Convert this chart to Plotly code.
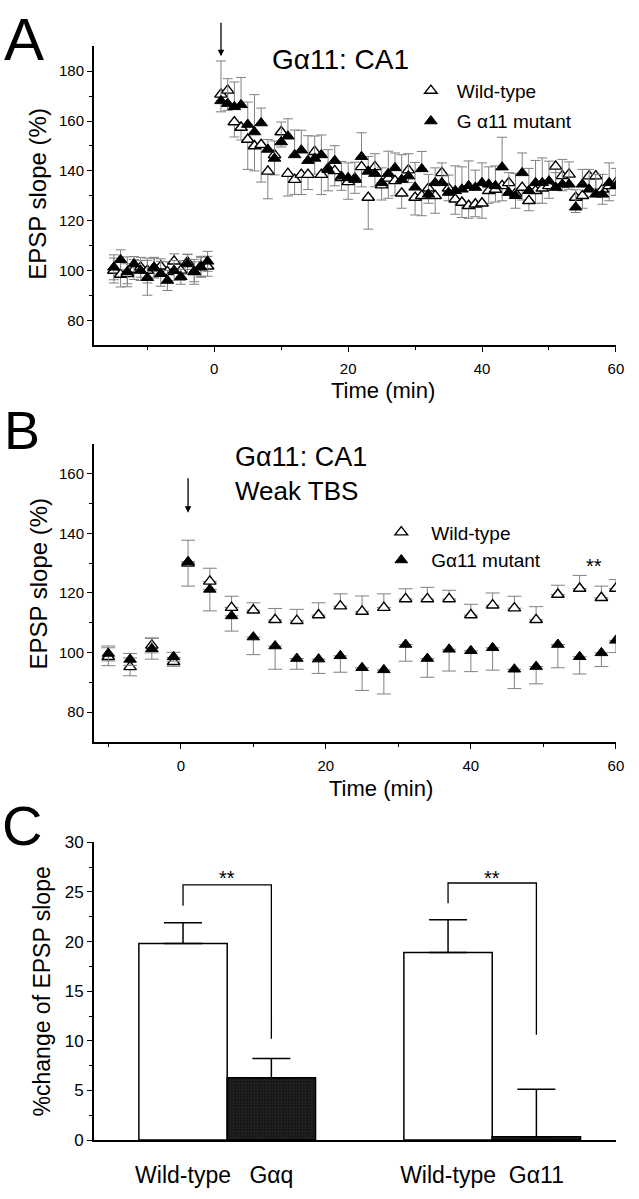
import plotly.graph_objects as go

# ---------------- Panel A data ----------------
tA = [-15, -14, -13, -12, -11, -10, -9, -8, -7, -6, -5, -4, -3, -2, -1,
      1, 2, 3, 4, 5, 6, 7, 8, 9, 10, 11, 12, 13, 14, 15, 16, 17, 18, 19, 20,
      21, 22, 23, 24, 25, 26, 27, 28, 29, 30, 31, 32, 33, 34, 35, 36, 37, 38, 39, 40,
      41, 42, 43, 44, 45, 46, 47, 48, 49, 50, 51, 52, 53, 54, 55, 56, 57, 58, 59, 60]
wtA = [100.0, 98.4, 98.7, 100.4, 101.3, 100.0, 101.0, 101.7, 99.5, 103.7, 100.0, 103.4, 99.5, 101.7, 101.7,
       170.7, 172.3, 159.6, 157.4, 152.6, 150.0, 150.5, 139.8, 146.4, 155.6,
       138.9, 136.5, 138.5, 138.5, 147.7, 138.5, 141.0, 140.0, 137.2, 135.6,
       137.0, 141.6, 129.3, 141.6, 134.3, 137.0, 136.0, 131.0, 140.3, 129.3,
       130.0, 133.0, 130.0, 139.2, 133.0, 128.6, 127.3, 126.0, 126.6, 127.0,
       132.0, 132.5, 134.0, 135.2, 131.0, 133.3, 128.0, 132.0, 133.0, 134.0,
       141.8, 138.0, 138.6, 129.3, 130.0, 137.9, 137.9, 132.6, 134.0, 135.2]
wtA_err = [5, 5, 4, 4, 4, 5, 4, 3, 4, 3, 4, 3, 4, 4, 4,
           7, 8, 6, 5, 12, 10, 15, 11, 8, 6,
           9, 6, 8, 6, 9, 8, 9, 6, 5, 7,
           6, 8, 12.7, 8, 6, 8, 6, 6, 5, 7,
           8, 6, 7, 5, 5, 6, 6, 5, 5, 6,
           5, 5, 6, 5, 6, 5, 4, 5, 6, 5,
           7, 6, 6, 6, 5, 6, 5, 6, 6, 5]
mutA = [101.3, 104.3, 99.5, 102.6, 100.0, 97.1, 101.3, 98.7, 96.0, 100.0, 97.5, 102.6, 99.5, 101.3, 103.7,
        168.1, 167.0, 165.7, 166.5, 158.6, 155.6, 159.2, 148.6, 145.0, 151.6,
        153.9, 146.4, 148.3, 144.1, 145.0, 146.4, 140.5, 144.1, 137.8, 137.2,
        136.5, 145.7, 139.8, 138.9, 135.2, 138.9, 141.2, 136.5, 137.9, 133.4,
        140.8, 130.6, 135.2, 135.2, 131.3, 132.0, 132.6, 134.0, 133.3, 135.2,
        134.6, 134.0, 141.5, 131.3, 130.0, 139.2, 132.0, 135.2, 135.2, 135.9,
        133.3, 134.6, 134.6, 125.4, 134.6, 132.6, 130.6, 130.6, 135.2, 134.0]
mutA_err = [5, 4, 6, 3, 4, 7, 4, 5, 4, 4, 3, 4, 5, 4, 4,
            16, 10, 10, 11, 9, 15, 6, 4, 7, 8,
            7, 10, 8, 10, 9, 8, 8, 6, 6, 6,
            7, 9.6, 6, 8, 6, 9, 6, 10, 9, 10,
            7, 8, 6, 8, 7, 10, 9, 10, 7, 8,
            7, 8, 12, 8, 9, 8, 9, 9, 10, 8,
            6, 10, 9, 7, 6, 8, 8, 8, 8, 7]

# ---------------- Panel B data ----------------
tB = [-10, -7, -4, -1, 1, 4, 7, 10, 13, 16, 19, 22, 25, 28, 31, 34, 37, 40, 43, 46, 49, 52, 55, 58, 60]
wtB = [98.6, 95.2, 102.4, 96.9, 130.0, 123.9, 115.1, 114.2, 111.0, 110.7, 112.6, 115.6, 113.8,
       115.1, 118.0, 118.0, 118.0, 112.6, 115.9, 114.9, 111.0, 119.5, 121.5, 118.4, 121.5]
wtB_err = [3, 3, 2.5, 1.5, 7.7, 4.4, 3.8, 2.5, 3.8, 3.8, 4.1, 4.1, 5.2,
           4.6, 3.4, 3.9, 2.9, 3.6, 4.1, 4.0, 4.4, 3.1, 4.4, 3.9, 3.0]
mutB = [99.7, 97.7, 101.3, 98.6, 130.5, 121.2, 112.3, 105.2, 102.2, 98.0, 97.8, 98.9, 94.9,
        94.2, 102.7, 98.0, 101.1, 100.6, 101.6, 94.4, 95.3, 102.7, 98.6, 99.9, 104.1]
mutB_err = [2.5, 2, 3.5, 1.5, 8.2, 7.2, 5.1, 5.9, 7.8, 3.6, 4.8, 5.5, 7.6,
            8.1, 5.6, 6.3, 7.3, 7.0, 7.5, 6.5, 5.8, 7.8, 5.8, 4.6, 4.1]

# ---------------- Panel C data ----------------
c_labels = ["Wild-type", "G\u03b1q", "Wild-type", "G\u03b111"]
c_pos = [1, 2, 4, 5]
c_values = [19.8, 6.27, 18.9, 0.33]
c_errors = [2.1, 1.95, 3.3, 4.8]
c_is_mutant = [False, True, False, True]
bracket_left = [23.6, 23.85]
bracket_top = [25.7, 25.9]
bracket_right = [10.2, 10.6]

W, H = 639, 1199
FONT = "Liberation Sans, Arial, Helvetica, sans-serif"
ERRC = "#808080"


def px(x):
    return x / W


def py(y):
    return 1 - y / H


def split_err(t, err, direction):
    up, down = [], []
    for ti, e in zip(t, err):
        if ti < 0:
            up.append(e); down.append(e)
        elif direction == "down":
            up.append(0); down.append(e)
        else:
            up.append(e); down.append(0)
    return up, down


fig = go.Figure()

open_marker = dict(symbol="triangle-up", size=11, color="white", line=dict(color="black", width=1.4))
fill_marker = dict(symbol="triangle-up", size=11, color="black", line=dict(color="black", width=1))

# Panel A
up, dn = split_err(tA, wtA_err, "down")
fig.add_trace(go.Scatter(x=tA, y=wtA, mode="markers", marker=open_marker, name="Wild-type",
                         error_y=dict(type="data", array=up, arrayminus=dn, color=ERRC, thickness=1, width=5),
                         xaxis="x", yaxis="y", legend="legend"))
up, dn = split_err(tA, mutA_err, "up")
fig.add_trace(go.Scatter(x=tA, y=mutA, mode="markers", marker=fill_marker, name="G \u03b111 mutant",
                         error_y=dict(type="data", array=up, arrayminus=dn, color=ERRC, thickness=1, width=5),
                         xaxis="x", yaxis="y", legend="legend2"))

# Panel B
upB = [e for t, e in zip(tB, wtB_err)]
dnB = [e if t < 0 else 0 for t, e in zip(tB, wtB_err)]
fig.add_trace(go.Scatter(x=tB, y=wtB, mode="markers", marker=open_marker, name="Wild-type",
                         error_y=dict(type="data", array=upB, arrayminus=dnB, color=ERRC, thickness=1, width=7),
                         xaxis="x2", yaxis="y2", legend="legend3"))
upB = [e if t < 0 else 0 for t, e in zip(tB, mutB_err)]
dnB = list(mutB_err)
fig.add_trace(go.Scatter(x=tB, y=mutB, mode="markers", marker=fill_marker, name="G\u03b111 mutant",
                         error_y=dict(type="data", array=upB, arrayminus=dnB, color=ERRC, thickness=1, width=7),
                         xaxis="x2", yaxis="y2", legend="legend4"))

# Panel C bars
wt_x = [p for p, m in zip(c_pos, c_is_mutant) if not m]
wt_y = [v for v, m in zip(c_values, c_is_mutant) if not m]
wt_e = [e for e, m in zip(c_errors, c_is_mutant) if not m]
mu_x = [p for p, m in zip(c_pos, c_is_mutant) if m]
mu_y = [v for v, m in zip(c_values, c_is_mutant) if m]
mu_e = [e for e, m in zip(c_errors, c_is_mutant) if m]
fig.add_trace(go.Bar(x=wt_x, y=wt_y, width=1.0, marker=dict(color="white", line=dict(color="black", width=1.5)),
                     error_y=dict(type="data", array=wt_e, arrayminus=[0] * len(wt_e), color="black", thickness=1.5, width=19),
                     xaxis="x3", yaxis="y3", showlegend=False))
fig.add_trace(go.Bar(x=mu_x, y=mu_y, width=1.0,
                     marker=dict(color="#1a1a1a", line=dict(color="black", width=1.5),
                                 pattern=dict(shape="+", fgcolor="#4a4a4a", bgcolor="#151515", size=3, solidity=0.25)),
                     error_y=dict(type="data", array=mu_e, arrayminus=[0] * len(mu_e), color="black", thickness=1.5, width=19),
                     xaxis="x3", yaxis="y3", showlegend=False))

# significance brackets
for i in range(2):
    xl, xr = c_pos[2 * i], c_pos[2 * i + 1]
    fig.add_trace(go.Scatter(x=[xl, xl, xr, xr], y=[bracket_left[i], bracket_top[i], bracket_top[i], bracket_right[i]],
                             mode="lines", line=dict(color="black", width=1.3), xaxis="x3", yaxis="y3",
                             showlegend=False, hoverinfo="skip"))

xdom = [px(95), px(623.7)]
axis_common = dict(showline=True, linecolor="black", linewidth=1.5, ticks="outside", ticklen=5,
                   tickwidth=1.3, tickcolor="black", showgrid=False, zeroline=False,
                   tickfont=dict(family=FONT, size=15, color="black"))

fig.update_layout(
    width=W, height=H, margin=dict(l=0, r=0, t=0, b=0),
    paper_bgcolor="white", plot_bgcolor="white",
    font=dict(family=FONT, color="black"),
    barmode="overlay",
    xaxis=dict(domain=xdom, anchor="y", range=[-18, 60], tickvals=[0, 20, 40, 60],
               minor=dict(tickvals=[-10, 10, 30, 50], ticks="outside", ticklen=3, tickcolor="black"),
               ticklabelstandoff=4, **axis_common),
    yaxis=dict(domain=[py(341.7), py(37.9)], anchor="x", range=[70, 190], tickvals=[80, 100, 120, 140, 160, 180],
               minor=dict(tickvals=[90, 110, 130, 150, 170], ticks="outside", ticklen=3, tickcolor="black"),
               **axis_common),
    xaxis2=dict(domain=xdom, anchor="y2", range=[-12, 60], tickvals=[0, 20, 40, 60],
                minor=dict(tickvals=[-10, 10, 30, 50], ticks="outside", ticklen=3, tickcolor="black"),
                ticklabelstandoff=4, **axis_common),
    yaxis2=dict(domain=[py(744.75), py(442)], anchor="x2", range=[70, 170], tickvals=[80, 100, 120, 140, 160],
                minor=dict(tickvals=[90, 110, 130, 150], ticks="outside", ticklen=3, tickcolor="black"),
                **axis_common),
    xaxis3=dict(domain=xdom, anchor="y3", range=[-0.01, 5.9], tickvals=c_pos, ticktext=c_labels,
                showline=True, linecolor="black", linewidth=1.5, ticks="", showgrid=False, zeroline=False,
                ticklabelstandoff=14, tickfont=dict(family=FONT, size=23, color="black")),
    yaxis3=dict(domain=[py(1149.3), py(846.7)], anchor="x3", range=[0, 30], tickvals=[0, 5, 10, 15, 20, 25, 30],
                minor=dict(tickvals=[2.5, 7.5, 12.5, 17.5, 22.5, 27.5], ticks="outside", ticklen=3, tickcolor="black"),
                showline=True, linecolor="black", linewidth=1.5, ticks="outside", ticklen=5, tickwidth=1.3,
                tickcolor="black", showgrid=False, zeroline=False,
                tickfont=dict(family=FONT, size=17, color="black")),
)

leg_common = dict(xanchor="left", yanchor="middle", bgcolor="rgba(0,0,0,0)", borderwidth=0,
                  font=dict(family=FONT, size=19, color="black"))
fig.update_layout(
    legend=dict(x=px(410), y=py(83), itemwidth=42, **leg_common),
    legend2=dict(x=px(410), y=py(114), itemwidth=42, **leg_common),
    legend3=dict(x=px(376), y=py(531.7), itemwidth=50, **leg_common),
    legend4=dict(x=px(376), y=py(560), itemwidth=50, **leg_common),
)

ann = []


def txt(x, y, s, size, xanchor="center", angle=0):
    ann.append(dict(x=px(x), y=py(y), xref="paper", yref="paper", text=s, showarrow=False,
                    xanchor=xanchor, yanchor="middle", textangle=angle,
                    font=dict(family=FONT, size=size, color="black")))


txt(24, 31, "A", 60)
txt(22, 428, "B", 54)
txt(22, 830, "C", 56)
txt(344.4, 51.7, "G\u03b111: CA1", 28)
txt(235.6, 455, "G\u03b111: CA1", 27, xanchor="left")
txt(235.6, 490, "Weak TBS", 26, xanchor="left")
txt(387.5, 388, "Time (min)", 22)
txt(386.3, 791.7, "Time (min)", 22)
txt(37.7, 187.5, "EPSP slope (%)", 24, angle=-90)
txt(39.3, 584, "EPSP slope (%)", 24, angle=-90)
txt(42.8, 998, "%change of EPSP slope", 23, angle=-90)

# stimulation arrows
ann.append(dict(x=1, y=186, xref="x", yref="y", ax=0, ay=-35, showarrow=True, arrowhead=2,
                arrowsize=1, arrowwidth=1.3, arrowcolor="black", text=""))
ann.append(dict(x=1, y=146.9, xref="x2", yref="y2", ax=0, ay=-36, showarrow=True, arrowhead=2,
                arrowsize=1, arrowwidth=1.3, arrowcolor="black", text=""))
# significance stars
ann.append(dict(x=57, y=128.9, xref="x2", yref="y2", text="**", showarrow=False,
                font=dict(family=FONT, size=20, color="black")))
ann.append(dict(x=1.5, y=26.4, xref="x3", yref="y3", text="**", showarrow=False,
                font=dict(family=FONT, size=20, color="black")))
ann.append(dict(x=4.5, y=26.4, xref="x3", yref="y3", text="**", showarrow=False,
                font=dict(family=FONT, size=20, color="black")))
fig.update_layout(annotations=ann)

fig.write_html(
    "out.html",
    config={"displayModeBar": False},
    post_script="document.body.style.margin='0';document.body.style.overflow='hidden';"
                "document.documentElement.style.overflow='hidden';",
)
